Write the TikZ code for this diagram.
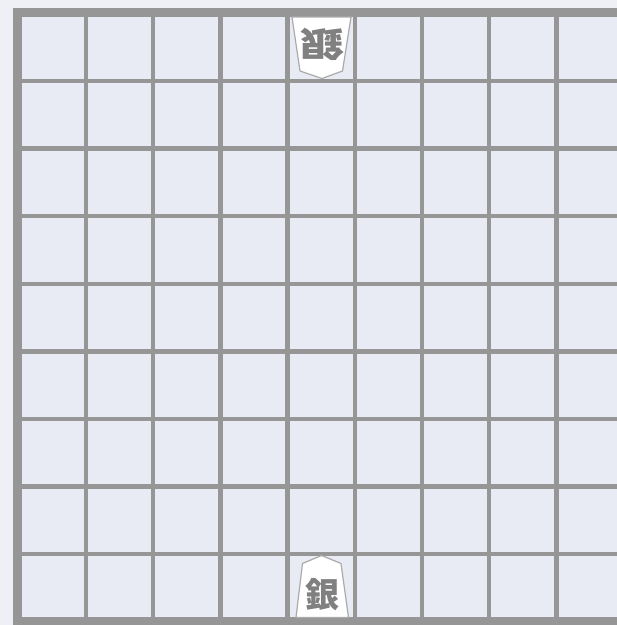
\documentclass[tikz,border=0pt]{standalone}
\usepackage{fontspec}
\newfontfamily\cjk{Noto Sans CJK JP}
\definecolor{outerbg}{HTML}{EEF0F6}
\definecolor{cellbg}{HTML}{E8EAF4}
\definecolor{gridgray}{HTML}{969696}
\definecolor{pieceedge}{HTML}{ABABAB}
\definecolor{glyphgray}{HTML}{808080}
\tikzset{
  gridline/.style={draw=gridgray, line width=4.3pt},
  borderline/.style={draw=gridgray, line width=9pt},
  piecebody/.style={fill=white, draw=pieceedge, line width=1.2pt, line join=round},
  piecetext/.style={font=\cjk\bfseries\fontsize{34}{34}\selectfont, text=glyphgray, inner sep=0pt},
}
\begin{document}
\begin{tikzpicture}[x=1pt,y=-1pt]
\useasboundingbox (0,0) rectangle (617,625);
\clip (0,0) rectangle (617,625);
\fill[outerbg] (0,0) rectangle (617,625);
\fill[cellbg] (17.4,12.5) rectangle (623.6,621.8);
% inner grid lines
\foreach \i in {0,...,7} {
  \draw[gridline] ({86+67.2*\i},12.5) -- ({86+67.2*\i},621.8);
  \draw[gridline] (17.4,{81+67.6*\i}) -- (623.6,{81+67.6*\i});
}
% outer border
\draw[borderline] (17.4,12.5) rectangle (623.6,621.8);
% gote piece (top, reversed)
\draw[piecebody] (292,17) -- (351,17) -- (342.5,71) -- (322,78.5) -- (300,71) -- cycle;
\node[piecetext, rotate=180, xscale=1.3] (gote) at (322.5,44) {銀};
% sente piece (bottom)
\draw[piecebody] (321.5,555.5) -- (341,563.5) -- (348.5,617.5) -- (296,617.5) -- (302.5,563.5) -- cycle;
\node[piecetext] (sente) at (322.5,595) {銀};
\end{tikzpicture}
\end{document}
